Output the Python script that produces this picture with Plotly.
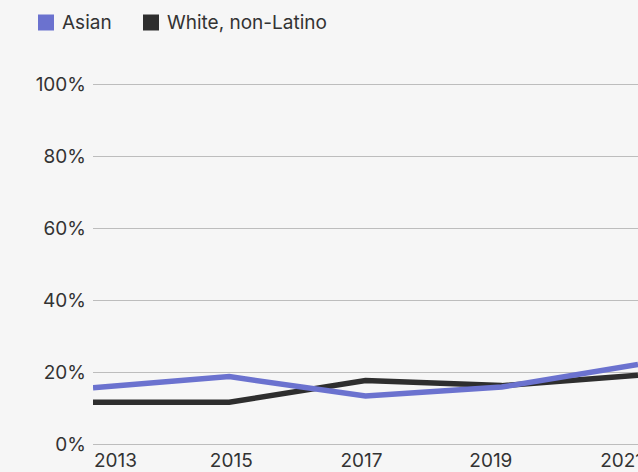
import plotly.graph_objects as go

# ---- data ----
years = [2013, 2015, 2017, 2019, 2021]
asian = [15.7, 18.8, 13.4, 15.9, 22.2]
white_non_latino = [11.7, 11.7, 17.7, 16.3, 19.2]
series_names = ["Asian", "White, non-Latino"]
series_colors = ["#6b72cf", "#2e2e2e"]
y_ticks = [0, 20, 40, 60, 80, 100]
y_tick_labels = ["0%", "20%", "40%", "60%", "80%", "100%"]
x_tick_labels = ["2013", "2015", "2017", "2019", "2021"]
x_tick_pos = [2013.33, 2015.03, 2016.94, 2018.84, 2020.76]

W, H = 638, 472
L, R, T, B = 93, 0, 83, 26
pw, ph = W - L - R, H - T - B

def px(x):
    return (x - L) / pw

def py(y):
    return (H - B - y) / ph

FONT = "Inter, 'Noto Sans', sans-serif"
TXT = "#333333"
FS = 19

fig = go.Figure()
fig.add_trace(go.Scatter(x=years, y=white_non_latino, mode="lines",
                         line=dict(color=series_colors[1], width=5.5),
                         name=series_names[1], showlegend=False))
fig.add_trace(go.Scatter(x=years, y=asian, mode="lines",
                         line=dict(color=series_colors[0], width=5.5),
                         name=series_names[0], showlegend=False))

# custom legend (square swatches)
legend_x = [38, 143]
shapes = []
annotations = []
for name, col, lx in zip(series_names, series_colors, legend_x):
    shapes.append(dict(type="rect", xref="paper", yref="paper",
                       x0=px(lx), x1=px(lx + 16), y0=py(30.5), y1=py(14.5),
                       fillcolor=col, line=dict(width=0)))
    annotations.append(dict(x=px(lx + 22), y=py(22.5), xref="paper", yref="paper",
                            text=name, showarrow=False, xanchor="left", yanchor="middle",
                            font=dict(family=FONT, size=FS, color=TXT)))

fig.update_layout(
    width=W, height=H,
    margin=dict(l=L, r=R, t=T, b=B, pad=0, autoexpand=False),
    paper_bgcolor="#f6f6f6", plot_bgcolor="#f6f6f6",
    font=dict(family=FONT, size=FS, color=TXT),
    shapes=shapes, annotations=annotations,
    showlegend=False,
    xaxis=dict(range=[2013, 2021], tickvals=x_tick_pos, ticktext=x_tick_labels,
               showgrid=False, zeroline=False, showline=False, ticks="",
               ticklabelstandoff=1, ticklabeloverflow="allow", automargin=False,
               tickfont=dict(size=FS, color=TXT)),
    yaxis=dict(range=[-0.5, 100.5], tickvals=y_ticks, ticktext=y_tick_labels,
               showgrid=True, gridcolor="#bdbdbd", gridwidth=1,
               zeroline=False, showline=False, ticks="", automargin=False,
               ticklabelstandoff=6, tickfont=dict(size=FS, color=TXT)),
)

fig.write_html("out.html", config={"displayModeBar": False},
               post_script="document.body.style.margin='0';document.body.style.background='#f6f6f6';")
